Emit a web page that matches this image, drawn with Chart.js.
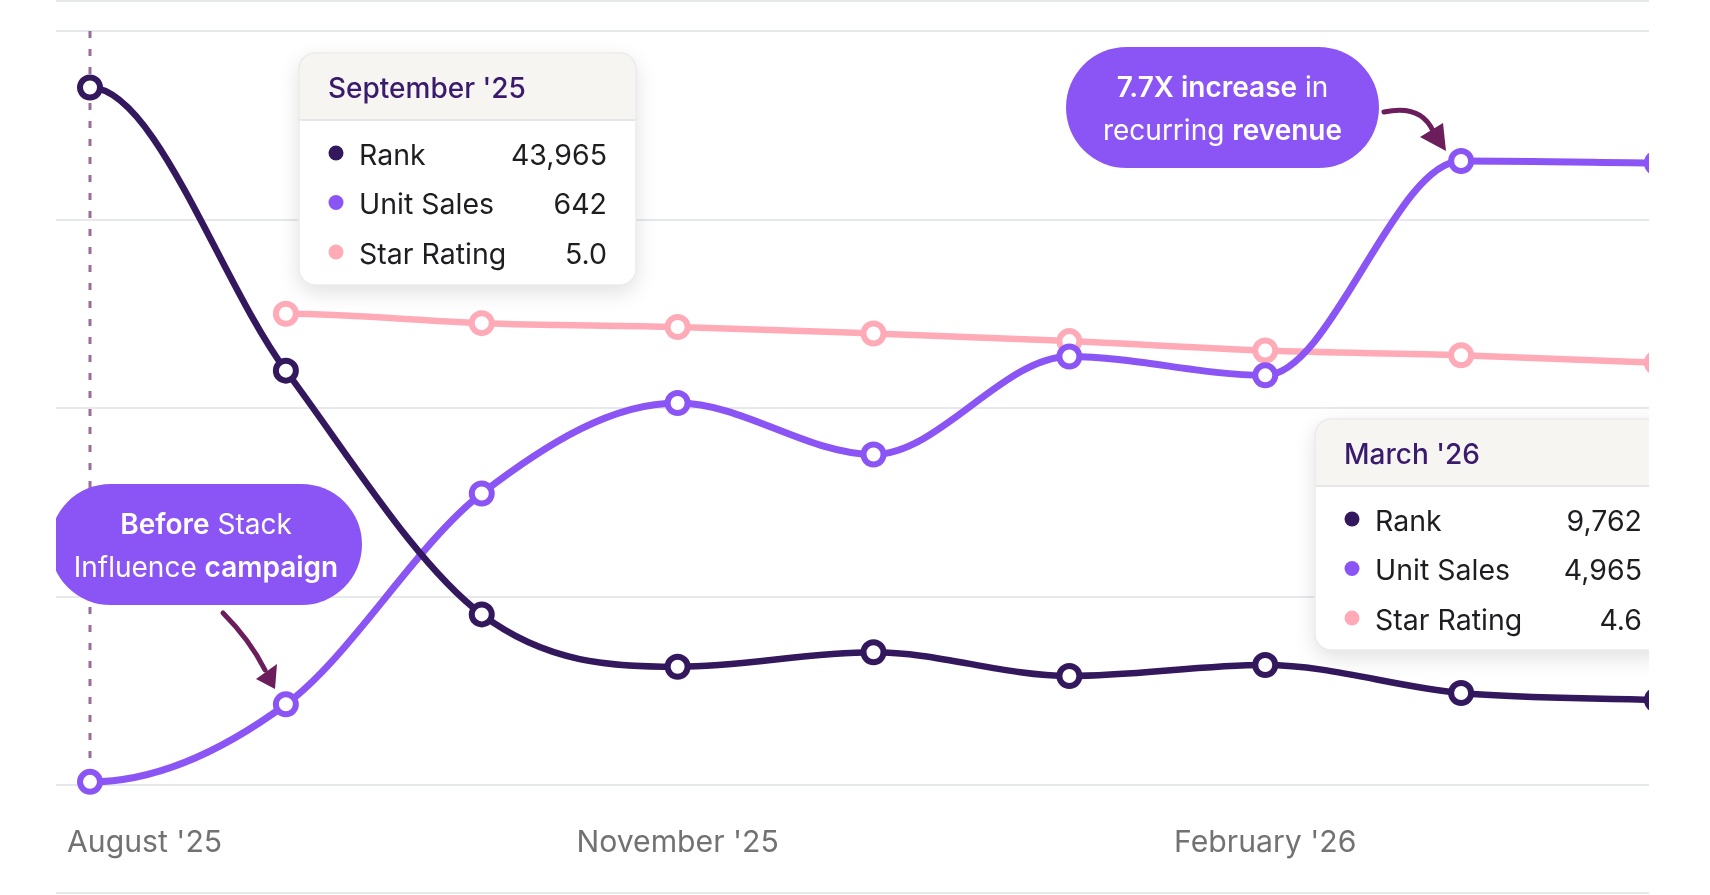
<!DOCTYPE html>
<html><head><meta charset="utf-8">
<script src="https://cdn.jsdelivr.net/npm/chart.js@4.4.1/dist/chart.umd.min.js"></script>
<style>
html,body{margin:0;padding:0;background:#fff;overflow:hidden;width:1710px;height:895px}
#clip{position:absolute;left:56px;top:0;width:1593px;height:895px;overflow:hidden}
#c{position:absolute;left:-56px;top:0}
</style></head><body>
<div id="clip"><canvas id="c" width="1710" height="895"></canvas></div>
<script>
// ---- data ----
const months = ["August '25","September '25","October '25","November '25","December '25","January '26","February '26","March '26","April '26"];
const rank = [74000, 43965, 18100, 12550, 14080, 11570, 12730, 9762, 9020];
const unitSales = [25, 642, 2320, 3040, 2630, 3410, 3260, 4965, 4950];
const starRating = [null, 5.0, 4.9, 4.86, 4.79, 4.71, 4.61, 4.56, 4.48];
const seriesNames = ["Rank", "Unit Sales", "Star Rating"];
const xTickIdx = [0, 3, 6];
const tooltipIdx = [1, 7];
const bubbleTop = [[["7.7X increase", true], [" in", false]], [["recurring ", false], ["revenue", true]]];
const bubbleLeft = [[["Before", true], [" Stack", false]], [["Influence ", false], ["campaign", true]]];

const C = { rank: '#33185e', units: '#8b55f5', star: '#ffabb7', grid: '#e6e8eb', arrow: '#6b1e5b', dash: '#9c6c98' };
const FONT = 'Inter, "Noto Sans", sans-serif';
const TY = 3; // vertical text nudge

function fmt(i, s) {
  if (s === 0) return rank[i].toLocaleString('en-US');
  if (s === 1) return unitSales[i].toLocaleString('en-US');
  return starRating[i].toFixed(1);
}
function rr(ctx, x, y, w, h, r) {
  ctx.beginPath();
  ctx.moveTo(x + r, y);
  ctx.arcTo(x + w, y, x + w, y + h, r);
  ctx.arcTo(x + w, y + h, x, y + h, r);
  ctx.arcTo(x, y + h, x, y, r);
  ctx.arcTo(x, y, x + w, y, r);
  ctx.closePath();
}
function drawTip(ctx, idx, box) {
  const {x, y, w, h} = box, hh = 67, r = 16;
  ctx.save();
  ctx.shadowColor = 'rgba(0,0,0,0.13)'; ctx.shadowBlur = 22; ctx.shadowOffsetY = 7;
  rr(ctx, x, y, w, h, r); ctx.fillStyle = '#fff'; ctx.fill();
  ctx.restore();
  ctx.save();
  rr(ctx, x, y, w, h, r); ctx.clip();
  ctx.fillStyle = '#f6f5f1'; ctx.fillRect(x, y, w, hh);
  ctx.fillStyle = '#e6e6e6'; ctx.fillRect(x, y + hh - 1, w, 2);
  ctx.restore();
  ctx.save();
  rr(ctx, x, y, w, h, r); ctx.strokeStyle = '#ebebeb'; ctx.lineWidth = 1.5; ctx.stroke();
  ctx.textBaseline = 'middle';
  ctx.fillStyle = '#3a1a6c'; ctx.font = '500 28px ' + FONT; ctx.textAlign = 'left';
  ctx.fillText(months[idx], x + 29, y + 34 + TY);
  const cols = [C.rank, C.units, C.star];
  for (let s = 0; s < 3; s++) {
    const cy = y + hh + 33 + s * 49.5;
    ctx.fillStyle = cols[s]; ctx.beginPath(); ctx.arc(x + 37, cy, 7.5, 0, Math.PI * 2); ctx.fill();
    ctx.fillStyle = '#1e1e22'; ctx.font = '400 28.5px ' + FONT; ctx.textAlign = 'left';
    ctx.fillText(seriesNames[s], x + 60, cy + TY);
    ctx.textAlign = 'right';
    ctx.fillText(fmt(idx, s), x + w - 29, cy + TY);
  }
  ctx.restore();
}
function drawBubble(ctx, box, lines) {
  const {x, y, w, h} = box;
  ctx.save();
  rr(ctx, x, y, w, h, h / 2); ctx.fillStyle = C.units; ctx.fill();
  ctx.fillStyle = '#fff'; ctx.textBaseline = 'middle'; ctx.textAlign = 'left';
  const cx = x + w / 2, cy = y + h / 2;
  lines.forEach((segs, li) => {
    let tw = 0;
    segs.forEach(([t, b]) => { ctx.font = (b ? '600 ' : '400 ') + '28px ' + FONT; tw += ctx.measureText(t).width; });
    let px = cx - tw / 2;
    const ly = cy + (li - 0.5) * 43 + TY;
    segs.forEach(([t, b]) => { ctx.font = (b ? '600 ' : '400 ') + '28px ' + FONT; ctx.fillText(t, px, ly); px += ctx.measureText(t).width; });
  });
  ctx.restore();
}
function drawArrow(ctx, p0, cp, p1, tip, b1, b2) {
  ctx.save();
  ctx.strokeStyle = C.arrow; ctx.fillStyle = C.arrow; ctx.lineWidth = 5; ctx.lineCap = 'round';
  ctx.beginPath(); ctx.moveTo(p0[0], p0[1]); ctx.quadraticCurveTo(cp[0], cp[1], p1[0], p1[1]); ctx.stroke();
  ctx.beginPath(); ctx.moveTo(tip[0], tip[1]); ctx.lineTo(b1[0], b1[1]); ctx.lineTo(b2[0], b2[1]); ctx.closePath(); ctx.fill();
  ctx.restore();
}

// curve rule: monotone interior, the first point leaves with a level tangent
const curveRule = {
  id: 'curveRule',
  beforeDatasetDraw(chart, args) {
    const line = args.meta.dataset;
    line.updateControlPoints(chart.chartArea, 'x');
    const p = args.meta.data.filter(e => !e.skip);
    if (p.length > 1) {
      p[0].cp2x = p[0].x + (p[1].x - p[0].x) / 3;
      p[0].cp2y = p[0].y;
    }
  }
};

const deco = {
  id: 'deco',
  beforeDatasetsDraw(chart) {
    const ctx = chart.ctx, xs = chart.scales.x, ca = chart.chartArea;
    ctx.save();
    ctx.fillStyle = C.grid;
    ctx.fillRect(ca.left, 0, ca.right - ca.left, 2);
    ctx.fillRect(ca.left, 892, ca.right - ca.left, 2);
    const x0 = xs.getPixelForValue(0);
    ctx.strokeStyle = C.dash; ctx.lineWidth = 3; ctx.setLineDash([7, 11]);
    ctx.beginPath(); ctx.moveTo(x0, ca.top); ctx.lineTo(x0, ca.bottom); ctx.stroke();
    ctx.restore();
  },
  afterDraw(chart) {
    const ctx = chart.ctx, xs = chart.scales.x;
    ctx.save();
    ctx.fillStyle = '#727272'; ctx.font = '400 30.2px ' + FONT; ctx.textBaseline = 'middle';
    xTickIdx.forEach((i, k) => {
      const px = xs.getPixelForValue(i);
      if (k === 0) { ctx.textAlign = 'left'; ctx.fillText(months[i], px - 23, 840 + TY); }
      else { ctx.textAlign = 'center'; ctx.fillText(months[i], px, 840 + TY); }
    });
    ctx.restore();
    drawTip(ctx, tooltipIdx[0], {x: 299, y: 53, w: 337, h: 232});
    drawTip(ctx, tooltipIdx[1], {x: 1315, y: 419, w: 356, h: 231});
    drawBubble(ctx, {x: 1066, y: 47, w: 313, h: 121}, bubbleTop);
    drawBubble(ctx, {x: 50, y: 484, w: 312, h: 121}, bubbleLeft);
    drawArrow(ctx, [1384, 112], [1421, 104], [1433, 131], [1446, 151], [1420, 137], [1443, 123]);
    drawArrow(ctx, [223, 613], [250, 640], [265, 670], [275, 689], [256, 679], [277, 664]);
  }
};

const pts = arr => arr.map((v, i) => ({x: i, y: v}));
const common = { cubicInterpolationMode: 'monotone', pointRadius: 10, pointHoverRadius: 10, pointBackgroundColor: '#fff', pointBorderWidth: 6, clip: false };

new Chart(document.getElementById('c'), {
  type: 'line',
  data: {
    datasets: [
      Object.assign({ label: seriesNames[0], data: pts(rank), yAxisID: 'yRank', borderColor: C.rank, pointBorderColor: C.rank, borderWidth: 6.5 }, common),
      Object.assign({ label: seriesNames[1], data: pts(unitSales), yAxisID: 'ySales', borderColor: C.units, pointBorderColor: C.units, borderWidth: 7 }, common),
      Object.assign({ label: seriesNames[2], data: pts(starRating), yAxisID: 'yStar', borderColor: C.star, pointBorderColor: C.star, borderWidth: 6.5 }, common)
    ]
  },
  options: {
    responsive: false,
    animation: false,
    events: [],
    layout: { padding: { left: 56, right: 19, top: 31, bottom: 110 } },
    plugins: { legend: { display: false }, tooltip: { enabled: false } },
    scales: {
      x: { type: 'linear', min: -0.1736, max: 8.1736, display: false },
      ySales: { position: 'left', min: 0, max: 6000, ticks: { display: false, stepSize: 1500 },
        grid: { color: C.grid, lineWidth: 2, drawTicks: false }, border: { display: false } },
      yRank: { display: false, min: 0, max: 80000 },
      yStar: { display: false, min: 0, max: 8 }
    }
  },
  plugins: [curveRule, deco]
});
</script>
</body></html>
